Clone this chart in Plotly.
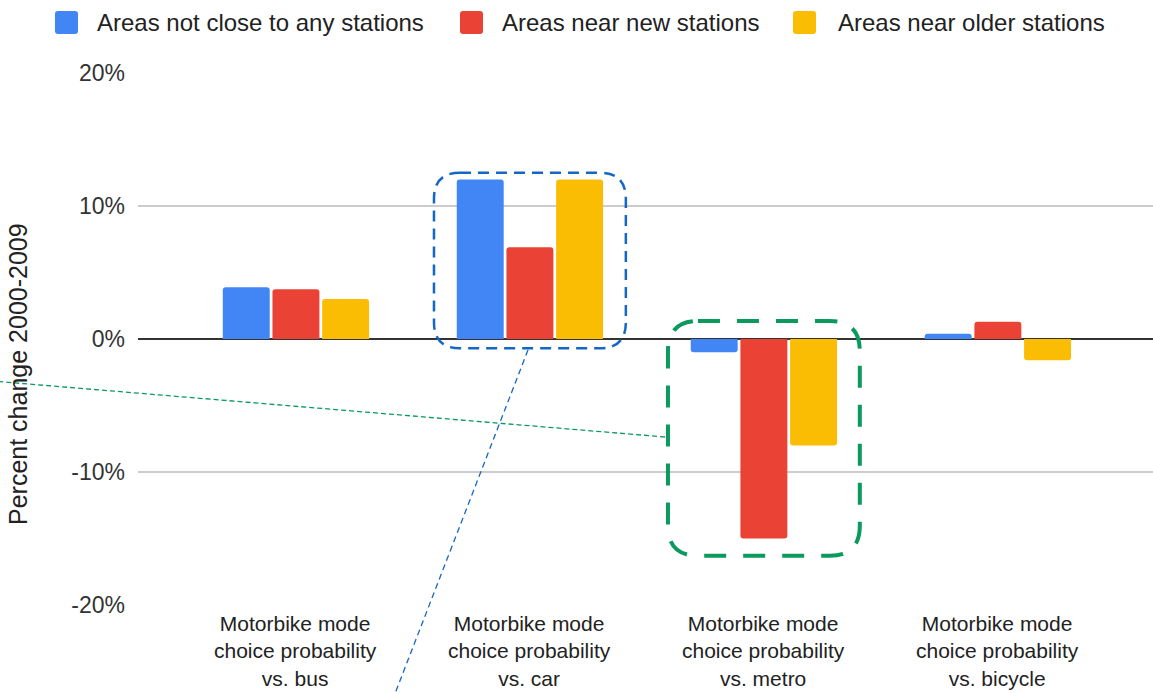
import plotly.graph_objects as go

# ---- data -------------------------------------------------------------
categories = [
    "Motorbike mode<br>choice probability<br>vs. bus",
    "Motorbike mode<br>choice probability<br>vs. car",
    "Motorbike mode<br>choice probability<br>vs. metro",
    "Motorbike mode<br>choice probability<br>vs. bicycle",
]
series_names = [
    "Areas not close to any stations",
    "Areas near new stations",
    "Areas near older stations",
]
not_close = [3.9, 12.0, -1.0, 0.4]
near_new = [3.75, 6.9, -15.0, 1.3]
near_older = [3.0, 12.0, -8.0, -1.6]
y_ticks = [-20, -10, 0, 10, 20]
y_title = "Percent change 2000-2009"

# ---- styling / geometry ----------------------------------------------
colors = ["#4285F4", "#EA4335", "#FBBC04"]
FONT = "Arial, Liberation Sans, sans-serif"
W, H = 1153, 693
ML, MR, MT, MB = 138, 0, 73, 88
PW, PH = W - ML - MR, H - MT - MB
X_RANGE = [-0.675, 3.663]
Y_RANGE = [-20, 20]
PX_PER_X = PW / (X_RANGE[1] - X_RANGE[0])
PX_PER_Y = PH / (Y_RANGE[1] - Y_RANGE[0])


def paper_x(px):
    return (px - ML) / PW


def paper_y(py):
    return (H - MB - py) / PH


def rounded_rect(x0, x1, y0, y1, rx, ry):
    return (
        f"M {x0 + rx},{y1} L {x1 - rx},{y1} Q {x1},{y1} {x1},{y1 - ry} "
        f"L {x1},{y0 + ry} Q {x1},{y0} {x1 - rx},{y0} "
        f"L {x0 + rx},{y0} Q {x0},{y0} {x0},{y0 + ry} "
        f"L {x0},{y1 - ry} Q {x0},{y1} {x0 + rx},{y1} Z"
    )


x_idx = list(range(len(categories)))
fig = go.Figure()
for name, vals, col in zip(series_names, [not_close, near_new, near_older], colors):
    fig.add_trace(go.Bar(x=x_idx, y=vals, name=name, marker_color=col,
                         marker_line_width=0, showlegend=False))

shapes = []
annotations = []

# highlight boxes around the car and metro groups (data coordinates)
half_w = 0.41
r_px = 26
shapes.append(dict(
    type="path", xref="x", yref="y",
    path=rounded_rect(1 - half_w, 1 + half_w, -0.7, max(not_close[1], near_older[1]) + 0.5,
                      r_px / PX_PER_X, r_px / PX_PER_Y),
    line=dict(color="#1467C4", width=2.5, dash="11px,7px"),
))
r_px = 30
shapes.append(dict(
    type="path", xref="x", yref="y",
    path=rounded_rect(2 - half_w, 2 + half_w, near_new[2] - 1.3, 1.35,
                      r_px / PX_PER_X, r_px / PX_PER_Y),
    line=dict(color="#0B9A5E", width=4, dash="22px,17px"),
))

# leader lines running off the chart
shapes.append(dict(
    type="line", xref="paper", yref="paper",
    x0=paper_x(528), y0=paper_y(350), x1=paper_x(384), y1=paper_y(722),
    line=dict(color="#1467C4", width=1.3, dash="6px,4px"),
))
shapes.append(dict(
    type="line", xref="paper", yref="paper",
    x0=paper_x(665), y0=paper_y(437), x1=paper_x(-20), y1=paper_y(380),
    line=dict(color="#0B9A5E", width=1.3, dash="5px,3px"),
))

# legend drawn as rounded swatches + labels
sq_left = [55, 460, 793]
txt_left = [95, 500, 836]
sq_size, sq_top = 23, 11
for name, col, sx, tx in zip(series_names, colors, sq_left, txt_left):
    shapes.append(dict(
        type="path", xref="paper", yref="paper",
        path=rounded_rect(paper_x(sx), paper_x(sx + sq_size),
                          paper_y(sq_top + sq_size), paper_y(sq_top),
                          3 / PW, 3 / PH),
        fillcolor=col, line=dict(width=0),
    ))
    annotations.append(dict(
        text=name, xref="paper", yref="paper", x=paper_x(tx), y=paper_y(sq_top + sq_size / 2),
        xanchor="left", yanchor="middle", showarrow=False,
        font=dict(family=FONT, size=24, color="#222222"),
    ))

# three-line category labels under each group
for i, label in enumerate(categories):
    annotations.append(dict(
        text=label, xref="x", yref="paper", x=i, y=paper_y(651),
        xanchor="center", yanchor="middle", showarrow=False, align="center",
        borderpad=0,
        font=dict(family=FONT, size=21, color="#222222"),
    ))

# y-axis title
annotations.append(dict(
    text=y_title, xref="paper", yref="paper", x=paper_x(18), y=paper_y(374),
    xanchor="center", yanchor="middle", textangle=-90, showarrow=False,
    font=dict(family=FONT, size=25, color="#222222"),
))

fig.update_layout(
    width=W, height=H,
    margin=dict(l=ML, r=MR, t=MT, b=MB, pad=0),
    paper_bgcolor="white", plot_bgcolor="white",
    barmode="group", bargap=0.363, bargroupgap=0.055, barcornerradius=3,
    shapes=shapes, annotations=annotations,
    showlegend=False,
    font=dict(family=FONT, color="#333333"),
)
fig.update_xaxes(range=X_RANGE, showgrid=False, zeroline=False, showline=False,
                 showticklabels=False, ticks="", fixedrange=True)
fig.update_yaxes(range=Y_RANGE, tickvals=y_ticks, ticktext=[f"{v}%" for v in y_ticks],
                 tickfont=dict(family=FONT, size=23, color="#333333"),
                 showgrid=True, gridcolor="#cccccc", gridwidth=1.5,
                 zeroline=True, zerolinecolor="#333333", zerolinewidth=2,
                 showline=False, ticks="", ticklabelstandoff=12)

fig.write_html("out.html")
